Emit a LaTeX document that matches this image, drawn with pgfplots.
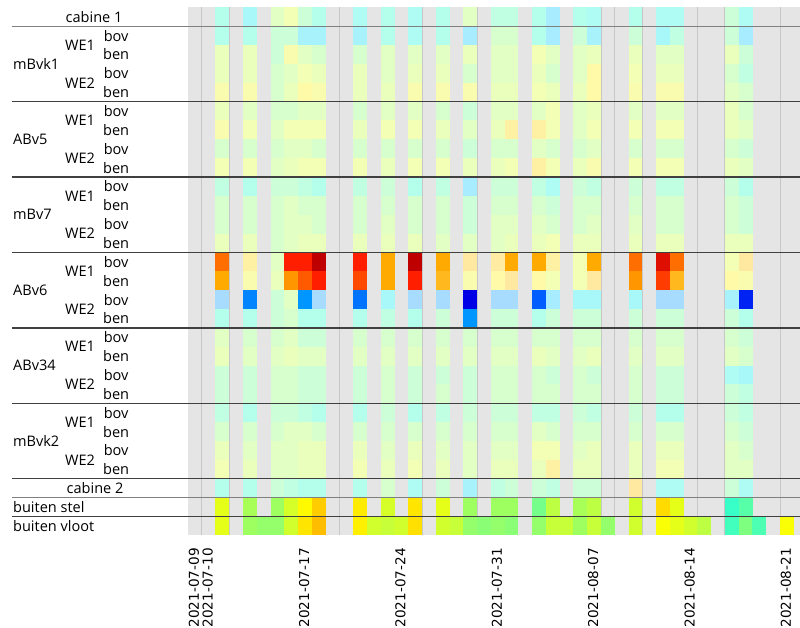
\documentclass[border=0pt]{standalone}
\usepackage{pgfplots}
\pgfplotsset{compat=1.18}
\usepackage{pgfplotstable}
\usepackage{fontspec}
\setmainfont{Open Sans}
\newfontfamily\tickfont{DejaVu Sans}
\definecolor{bg}{RGB}{229,229,229}
\pgfplotsset{
 colormap={interior}{rgb255(0pt)=(0,0,160); rgb255(1pt)=(0,0,230); rgb255(2pt)=(0,70,255); rgb255(3pt)=(0,115,255); rgb255(4pt)=(0,150,255); rgb255(5pt)=(120,200,255); rgb255(6pt)=(168,220,255); rgb255(7pt)=(168,236,255); rgb255(8pt)=(168,248,250); rgb255(9pt)=(180,255,236); rgb255(10pt)=(204,255,216); rgb255(11pt)=(226,255,196); rgb255(12pt)=(242,255,180); rgb255(13pt)=(255,250,168); rgb255(14pt)=(255,232,160); rgb255(15pt)=(255,200,60); rgb255(16pt)=(255,170,0); rgb255(17pt)=(255,130,0); rgb255(18pt)=(255,90,0); rgb255(19pt)=(255,30,0); rgb255(20pt)=(190,0,0)},
 colormap={myjet}{rgb255(0pt)=(0,0,128); rgb255(1pt)=(0,0,255); rgb255(3pt)=(0,255,255); rgb255(5pt)=(255,255,0); rgb255(7pt)=(255,0,0); rgb255(8pt)=(128,0,0)},
}
\pgfdeclareplotmark{cell}{\pgfpathrectangle{\pgfpoint{-5.2pt}{-7.1pt}}{\pgfpoint{10.4pt}{14.2pt}}\pgfusepathqfill}

% day index d (0 = 2021-07-09); r0..r25 interior level 0..20, r26 = buiten stel (jet 0..1)
\pgfplotstableread{
d  r0 r1 r2 r3 r4 r5 r6 r7 r8 r9 r10 r11 r12 r13 r14 r15 r16 r17 r18 r19 r20 r21 r22 r23 r24 r25 r26
2  9 9 11.5 11.5 12.5 11.5 12.5 10.5 12 9.5 10.5 10.5 11.5 17.5 16 6 9 11 11.5 10 10 9.5 10.5 11.5 12 9 0.6
4  8 9 11.5 11.5 12.5 11 12 10.5 12 9 10.5 10.5 11.5 13.5 12.5 3.5 9 10.5 11 10 10 9 10.5 11 11.5 9 0.54
6  11 10 10 10.5 10.5 10.5 11 10.5 11 10 10.5 10.5 10.5 11 11.5 10 10 10.5 11 10.5 10.5 10 10.5 11 11 10 0.53
7  12 10 12.5 11 11.5 10.5 12 11 11.5 10 11 11 11 19 16.5 11 10.5 11 11.5 10.5 10.5 10 11 11 11 9.5 0.585
8  10 7.5 11 12 13 11 12 11 12 9.5 10.5 11 11.5 19 18 4 9 10 11 10 10 9.5 11 11.5 11.5 9 0.63
9  9 7.5 10.5 11.5 12.5 11 12 10.5 12 9 10.5 10.5 11.5 20 19 6 9 10 11 10 10 9 10.5 11.5 11.5 9 0.675
12 8.5 7.5 10.5 11.5 11.5 10.5 11.5 10.5 12 9.5 10.5 10.5 11.5 19 18.3 3 9 10.5 11 10 10 9 10.5 11.5 12 9 0.645
14 9 9 11 11 11.5 11 12 10.5 11.5 10 10.5 11 11.5 16 16 8 9.5 10.5 11 10.5 10.5 10 10.5 11 11.5 10.5 0.585
16 8.5 8.5 11 11.5 12.5 11 12 10.5 12 9 10.5 10.5 11.5 20 19 6 9 10.5 11 10 10 9 10.5 11.5 12 8.5 0.65
18 9 9 11 11.5 12.5 10.5 11.5 10.5 12 9.5 10.5 10.5 11 16 15.5 6 10 10.5 11 10 10.5 9.5 10.5 11 11.5 10 0.6
20 11 7 11.5 10.5 12.5 10 11 10 11.5 7 10 10 11 14 12.5 1 4 10.5 11 10 10 10 10.5 11 11 7.5 0.53
22 9.5 10.5 11 11 11.5 11 11.5 10.5 11.5 10 10.5 11 11 13.8 13 6 10 10.5 11 10.5 10.5 10 10.5 11 11.5 9.5 0.53
23 9.5 10.5 11 11 11.5 11 13.5 10.5 12 10 10.5 11 11.5 16 14 6 10 10.5 11 10.5 10.5 10 10.5 11 11.5 10 0.53
25 9 9 12 11.5 12 11 13.5 11 13.5 9.5 10.5 11 11.5 16 13 2.5 9 10.5 11.5 10.5 10.5 9.5 11 12 11.5 10 0.49
26 7 7 11 10.5 11.5 12 12 10.5 12 8.5 10 10.5 12 13.5 12 7 10 10.5 11 10 10.5 9.5 10.5 12 13.5 9.5 0.56
28 9 10 11 11 11.5 11 11 10.5 11.5 10 10.5 10.5 11.5 12 12 8 10 10.5 11 10.5 10.5 10 10.5 11 11.5 10 0.54
29 8.5 7.5 11.5 13 13 11.5 12 11 12.5 9.5 10.5 11 11.5 16 14 8 10 10.5 11.5 10 10.5 9.5 10.5 11.5 11.5 10 0.56
32 9 10 11.5 12 12.5 11 12 10.5 12 10 10.5 11 11.5 17.5 16.5 8 10 10.5 11 10.5 10.5 10 10.5 11.5 11.5 14 0.58
34 8.5 8 11 11.5 12.5 11 12 10.5 12 9.5 10.5 10.5 11.5 19.5 18.5 6 10 10.5 11 10 10 9 10.5 11.5 12 8.5 0.66
35 8.5 9.5 11 11.5 12.5 11 12 10.5 12 9.5 10.5 10.5 11.5 17.5 15.5 6 10 10.5 11 10 10 9 10.5 11.5 12 8.5 0.6
39 10 10 11.5 10.5 11 11.5 11.5 10.5 11.5 10 10.5 10.5 11.5 12 13 7.5 10 10.5 11 8.5 10 10 10.5 11 11 10 0.43
40 8.5 7 10 9.5 10.5 10.5 11 10 11 9 10 10 11.5 14 12.5 1.5 9 10 10.5 8 9.5 9.5 10 10.5 11 8.5 0.46
}\cells

% buiten vloot (jet 0..1)
\pgfplotstableread{
d v
2 0.6
4 0.53
5 0.52
6 0.52
7 0.58
8 0.65
9 0.69
12 0.64
13 0.58
14 0.57
15 0.58
16 0.655
18 0.58
19 0.57
20 0.52
21 0.51
22 0.52
23 0.51
25 0.52
26 0.57
27 0.57
28 0.53
29 0.57
30 0.52
32 0.58
34 0.62
35 0.6
36 0.58
37 0.56
39 0.44
40 0.5
41 0.45
43 0.62
44 0.58
}\vloot

\begin{document}
\begin{tikzpicture}
\begin{axis}[name=ax, scale only axis, width=459pt, height=396pt,
  xmin=0, xmax=44.45, ymin=0, ymax=28, y dir=reverse,
  axis line style={draw=none}, axis background/.style={fill=bg},
  ytick=\empty,
  xtick={0,1,8,15,22,29,36,43},
  xticklabels={2021-07-09,2021-07-10,2021-07-17,2021-07-24,2021-07-31,2021-08-07,2021-08-14,2021-08-21},
  major tick length=0pt, minor tick length=0pt,
  minor xtick={1,3,...,43,30}, xminorgrids,
  minor grid style={black, opacity=0.13, line width=0.75pt},
  axis on top,
  xticklabel style={font=\tickfont\fontsize{10.2pt}{12pt}\selectfont, xshift=4.5pt, yshift=-9.5pt, rotate=90, anchor=east, inner sep=0pt},
  point meta min=0, point meta max=20]
\pgfplotsinvokeforeach{0,...,25}{
  \addplot[scatter, only marks, mark=cell, point meta=explicit, colormap name=interior]
    table[x expr=\thisrow{d}+0.5, y expr=#1+0.5, meta=r#1]{\cells};
}
\addplot[scatter, only marks, mark=cell, point meta=explicit, colormap name=myjet]
  table[x expr=\thisrow{d}+0.5, y expr=26.5, meta expr=20*\thisrow{r26}]{\cells};
\addplot[scatter, only marks, mark=cell, point meta=explicit, colormap name=myjet]
  table[x expr=\thisrow{d}+0.5, y expr=27.5, meta expr=20*\thisrow{v}]{\vloot};
\end{axis}
\begin{scope}[shift={(ax.north west)}, x=10.326pt, y=-14.1429pt, font=\fontsize{10.9pt}{13pt}\selectfont]
  \foreach \yy in {5,9,13,17,21,25,27} \draw[black!75, line width=1.1pt] (-12.77,\yy) -- (44.45,\yy);
  \foreach \yy in {1,26} \draw[black!50, line width=0.8pt] (-12.77,\yy) -- (44.45,\yy);
  \node at (-6.82,0.5) {cabine 1};
  \node at (-6.75,25.5) {cabine 2};
  \node[anchor=west, inner sep=0pt] at (-12.72,26.5) {buiten stel};
  \node[anchor=west, inner sep=0pt] at (-12.72,27.5) {buiten vloot};
  \foreach \g/\n in {1/mBvk1,5/ABv5,9/mBv7,13/ABv6,17/ABv34,21/mBvk2} {
    \node[anchor=west, inner sep=0pt] at (-12.72,\g+2) {\n};
    \node at (-7.84,\g+1) {WE1};
    \node at (-7.84,\g+3) {WE2};
    \node at (-5.22,\g+0.5) {bov};
    \node at (-5.22,\g+1.5) {ben};
    \node at (-5.22,\g+2.5) {bov};
    \node at (-5.22,\g+3.5) {ben};
  }
\end{scope}
\pgfresetboundingbox
\path ([shift={(-141pt,-69.5pt)}]ax.south west) rectangle ([shift={(0pt,5.5pt)}]ax.north east);
\end{tikzpicture}
\end{document}
